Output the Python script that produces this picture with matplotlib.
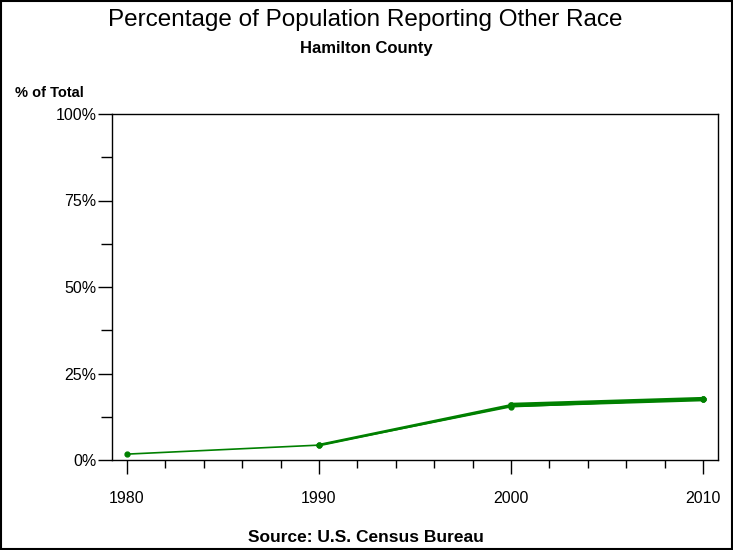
import matplotlib
matplotlib.use('Agg')
import matplotlib.pyplot as plt
import numpy as np

plt.rcParams['font.family'] = ['Liberation Sans', 'DejaVu Sans']

# Data
years = [1980, 1990, 2000, 2010]
pct_a = [1.7, 4.3, 15.4, 17.6]
pct_b = [np.nan, 4.3, 15.8, 17.6]
pct_c = [np.nan, np.nan, 15.9, 17.6]

y_ticks = [0, 25, 50, 75, 100]
y_tick_labels = ['0%', '25%', '50%', '75%', '100%']

green = '#008000'

fig = plt.figure(figsize=(7.33, 5.5), dpi=100)
ax = fig.add_axes([112/733, 1 - 460/550, (718-112)/733, (460-114)/550])

for s, lw in ((pct_a, 1.2), (pct_b, 2.0), (pct_c, 3.2)):
    ax.plot(years, s, color=green, linewidth=lw, marker='o', markersize=3.5)

ax.set_xlim(1980 - 15/19.2, 2010 + 15/19.2)
ax.set_ylim(0, 100)
ax.set_xticks(years)
ax.set_xticks(np.arange(1980, 2011, 2), minor=True)
ax.set_yticks(y_ticks)
ax.set_yticklabels(y_tick_labels)
ax.set_yticks(np.arange(12.5, 100, 25), minor=True)
ax.tick_params(axis='both', which='major', length=10, width=1, labelsize=11.5, color='black')
ax.tick_params(axis='x', which='major', pad=12)
ax.tick_params(axis='y', which='major', pad=1)
ax.tick_params(axis='x', which='minor', length=6, width=1)
ax.tick_params(axis='y', which='minor', length=8, width=1)
for sp in ax.spines.values():
    sp.set_linewidth(1)
    sp.set_color('black')

fig.text(365/733, 1 - 20/550, 'Percentage of Population Reporting Other Race',
         ha='center', va='center', fontsize=17.5)
fig.text(366/733, 1 - 48/550, 'Hamilton County', ha='center', va='center',
         fontsize=12, fontweight='bold')
fig.text(15/733, 1 - 93/550, '% of Total', ha='left', va='center',
         fontsize=10.5, fontweight='bold')
fig.text(366/733, 1 - 537/550, 'Source: U.S. Census Bureau', ha='center',
         va='center', fontsize=12.5, fontweight='bold')

# Frame around the whole figure
fig.patches.append(plt.Rectangle((0.001, 0.001), 0.997, 0.997, transform=fig.transFigure,
                                 fill=False, edgecolor='black', linewidth=1.5))

fig.savefig('out.png', dpi=100)
